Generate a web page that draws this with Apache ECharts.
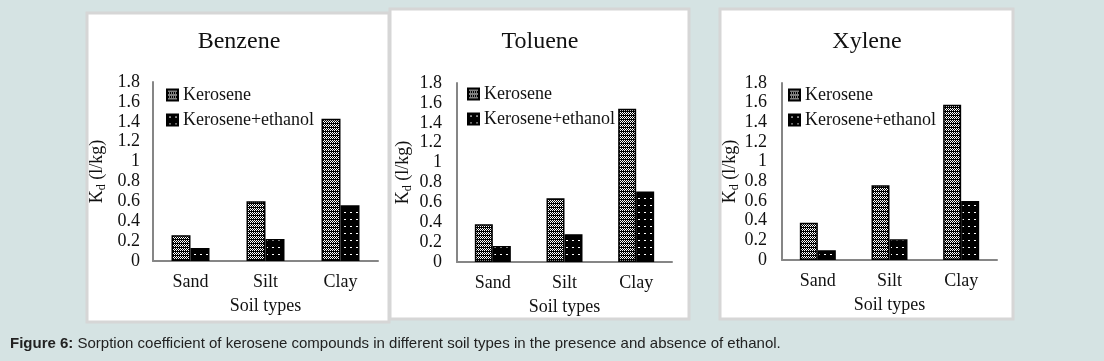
<!DOCTYPE html>
<html>
<head>
<meta charset="utf-8">
<script src="https://cdn.jsdelivr.net/npm/echarts@6/dist/echarts.min.js"></script>
<style>
html,body{margin:0;padding:0;background:#d5e3e3;}
#c{width:1104px;height:361px;}
</style>
</head>
<body>
<div id="c"></div>
<script>
// ---- data ----
var categories = ['Sand', 'Silt', 'Clay'];
var panelTitles = ['Benzene', 'Toluene', 'Xylene'];
var seriesNames = ['Kerosene', 'Kerosene+ethanol'];
var benzeneKerosene = [0.26, 0.60, 1.43];
var benzeneEthanol  = [0.13, 0.22, 0.56];
var tolueneKerosene = [0.38, 0.64, 1.54];
var tolueneEthanol  = [0.16, 0.28, 0.71];
var xyleneKerosene  = [0.38, 0.76, 1.58];
var xyleneEthanol   = [0.10, 0.21, 0.60];
var yMin = 0, yMax = 1.8, yStep = 0.2;
var xAxisTitle = 'Soil types';
var caption = 'Sorption coefficient of kerosene compounds in different soil types in the presence and absence of ethanol.';

var values = [[benzeneKerosene, benzeneEthanol], [tolueneKerosene, tolueneEthanol], [xyleneKerosene, xyleneEthanol]];

// ---- patterns ----
function makePattern(w, h, whites) {
  var c = document.createElement('canvas');
  c.width = w; c.height = h;
  var ctx = c.getContext('2d');
  ctx.fillStyle = '#000'; ctx.fillRect(0, 0, w, h);
  ctx.fillStyle = '#fff';
  whites.forEach(function (p) { ctx.fillRect(p[0], p[1], 1, 1); });
  return c;
}
var keroPat = makePattern(4, 4, [[0,0],[2,0],[1,1],[3,1],[0,2],[2,2]]);
var ethPat = makePattern(6, 7, [[2,2],[3,2]]);
var fills = [{image: keroPat, repeat: 'repeat'}, {image: ethPat, repeat: 'repeat'}];

// ---- layout ----
var panels = [
  {x: 87, y: 13, w: 302, h: 309},
  {x: 390, y: 9, w: 299, h: 310},
  {x: 720, y: 9, w: 293, h: 310}
];
var grids = [
  {left: 153, top: 82, width: 225, height: 179},
  {left: 457, top: 83, width: 215, height: 179},
  {left: 782, top: 83, width: 215, height: 177}
];
var titleCenters = [[239, 42], [540, 42], [867, 42]];
var legendPos = [[161, 81], [462, 80], [783, 81]];
var yNameGaps = [45, 43, 38];
var yLabelMargins = [13, 15, 15];
var barWidths = [19, 18, 18];

var serif = '"Liberation Serif", "Times New Roman", serif';
var txtColor = '#111';
var axisColor = '#868686';

var option = {
  backgroundColor: '#d5e3e3',
  animation: false,
  grid: grids.map(function (g) { return Object.assign({containLabel: false}, g); }),
  xAxis: grids.map(function (g, i) {
    return {
      type: 'category', gridIndex: i, data: categories,
      axisLine: {lineStyle: {color: axisColor, width: 2}},
      axisTick: {show: false},
      axisLabel: {fontFamily: serif, fontSize: 18, color: txtColor, margin: 12},
      name: xAxisTitle, nameLocation: 'middle', nameGap: 36,
      nameTextStyle: {fontFamily: serif, fontSize: 18, color: txtColor}
    };
  }),
  yAxis: grids.map(function (g, i) {
    return {
      type: 'value', gridIndex: i, min: yMin, max: yMax, interval: yStep,
      axisLine: {show: true, lineStyle: {color: axisColor, width: 2}},
      axisTick: {show: false},
      splitLine: {show: false},
      axisLabel: {fontFamily: serif, fontSize: 18, color: txtColor, margin: yLabelMargins[i]},
      name: 'K{d|d} (l/kg)', nameLocation: 'middle', nameRotate: 90, nameGap: yNameGaps[i],
      nameTextStyle: {
        fontFamily: serif, fontSize: 18, color: txtColor,
        rich: {d: {fontFamily: serif, fontSize: 12, color: txtColor, verticalAlign: 'bottom', padding: [9, 0, 0, 0]}}
      }
    };
  }),
  legend: legendPos.map(function (p) {
    return {
      left: p[0], top: p[1], orient: 'vertical', data: seriesNames,
      icon: 'rect', itemWidth: 11, itemHeight: 11, itemGap: 7,
      textStyle: {fontFamily: serif, fontSize: 18, color: txtColor},
      selectedMode: false
    };
  }),
  series: [],
  graphic: []
};

values.forEach(function (pair, i) {
  pair.forEach(function (arr, j) {
    option.series.push({
      type: 'bar', name: seriesNames[j], xAxisIndex: i, yAxisIndex: i,
      data: arr, barWidth: barWidths[i], barGap: '0%',
      itemStyle: {color: fills[j], borderColor: '#000', borderWidth: 1.5},
      emphasis: {disabled: true}
    });
  });
});

panels.forEach(function (p) {
  option.graphic.push({
    type: 'rect', z: -10, silent: true,
    shape: {x: p.x, y: p.y, width: p.w, height: p.h},
    style: {fill: '#ffffff', stroke: '#d6d6d6', lineWidth: 3}
  });
});
panelTitles.forEach(function (t, i) {
  option.graphic.push({
    type: 'text', x: titleCenters[i][0], y: titleCenters[i][1],
    style: {text: t, fontFamily: serif, fontSize: 24, fill: '#111', align: 'center', verticalAlign: 'middle'}
  });
});
option.graphic.push({
  type: 'text', x: 10, y: 344,
  style: {
    text: '{b|Figure 6:} ' + caption,
    fontFamily: '"Liberation Sans", Arial, sans-serif', fontSize: 15, fill: '#222',
    verticalAlign: 'middle',
    rich: {b: {fontFamily: '"Liberation Sans", Arial, sans-serif', fontSize: 15, fontWeight: 'bold', fill: '#222'}}
  }
});

var chart = echarts.init(document.getElementById('c'), null, {renderer: 'canvas'});
chart.setOption(option);
</script>
</body>
</html>
